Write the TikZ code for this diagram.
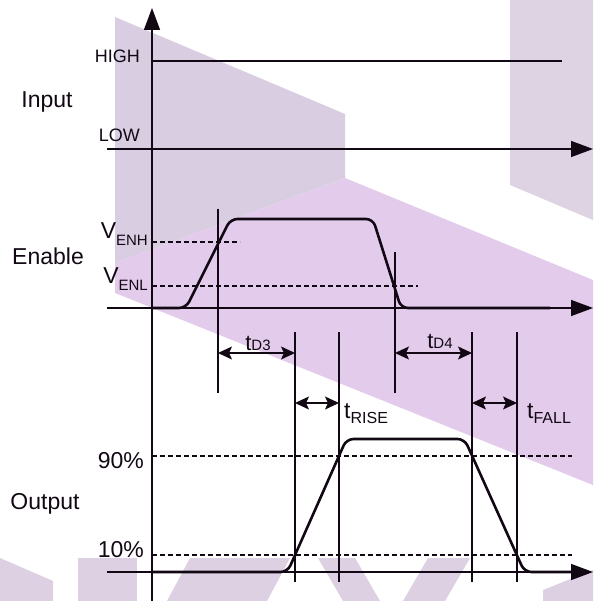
\documentclass[tikz,border=0pt]{standalone}
\usepackage{fontspec}
\setmainfont{Liberation Sans}
\usetikzlibrary{arrows.meta}
\newcommand\myfs[1]{\fontsize{#1}{#1}\selectfont}
\definecolor{wmgrey}{HTML}{D9CEE1}
\definecolor{wmpink}{HTML}{E3CBEC}
\definecolor{wmgreyb}{HTML}{DED3E3}
\definecolor{wmlow}{HTML}{DDD0E2}
\definecolor{ink}{HTML}{120814}
\begin{document}
\begin{tikzpicture}[x=1pt,y=-1pt,
  axisline/.style={line width=1.5pt, draw=ink},
  axisarrow/.style={axisline, -{Triangle[length=22pt,width=16pt]}},
  wave/.style={line width=2.6pt, draw=ink, rounded corners=7pt, line join=round},
  levelline/.style={line width=2.2pt, draw=ink},
  guide/.style={line width=1.3pt, draw=ink},
  thresh/.style={line width=1.1pt, draw=ink, dash pattern=on 5pt off 3pt},
  dim/.style={line width=1.4pt, draw=ink, {Stealth[length=14pt,width=13pt,inset=3pt]}-{Stealth[length=14pt,width=13pt,inset=3pt]}},
  lbl/.style={inner sep=0pt, text=ink, font=\myfs{23}},
  small/.style={inner sep=0pt, text=ink, font=\myfs{18}}]
\useasboundingbox (0,0) rectangle (593,601);
\fill[white] (0,0) rectangle (593,601);
% watermark
\fill[wmgrey] (115,17) -- (345,114) -- (345,178) -- (115,263) -- cycle;
\fill[wmpink] (115,263) -- (345,178) -- (593,280) -- (593,485) -- (115,293) -- cycle;
\fill[wmgreyb] (510,0) -- (593,0) -- (593,220) -- (510,185) -- cycle;
\fill[wmlow] (0,558) -- (53,581) -- (53,601) -- (0,601) -- cycle;
\fill[wmlow] (78,558) -- (137,558) -- (137,601) -- (78,601) -- cycle;
\fill[wmlow] (190,558) -- (290,558) -- (267,601) -- (167,601) -- cycle;
\fill[wmlow] (318,558) -- (355,558) -- (380,601) -- (343,601) -- cycle;
\fill[wmlow] (428,558) -- (470,558) -- (445,601) -- (403,601) -- cycle;
\fill[wmlow] (543,590) -- (593,570) -- (593,601) -- (543,601) -- cycle;

% coordinates
\coordinate (yb) at (152,601); \coordinate (yt) at (152,8);
\coordinate (hi0) at (152,61); \coordinate (hi1) at (562,61);
\coordinate (lo0) at (107,149); \coordinate (lo1) at (593,149);
\coordinate (en0) at (107,308); \coordinate (en1) at (593,308);
\coordinate (ou0) at (107,572); \coordinate (ou1) at (593,572);
% thresholds
\coordinate (enh0) at (152,242); \coordinate (enh1) at (240,242);
\coordinate (enl0) at (152,286); \coordinate (enl1) at (418,286);
\coordinate (p90a) at (152,456); \coordinate (p90b) at (572,456);
\coordinate (p10a) at (152,555); \coordinate (p10b) at (572,555);
% guides
\coordinate (g1a) at (218,209); \coordinate (g1b) at (218,393);
\coordinate (g4a) at (395,252); \coordinate (g4b) at (395,393);
\coordinate (g2a) at (295,332); \coordinate (g2b) at (295,582);
\coordinate (g3a) at (339,332); \coordinate (g3b) at (339,582);
\coordinate (g5a) at (472,332); \coordinate (g5b) at (472,582);
\coordinate (g6a) at (517,332); \coordinate (g6b) at (517,582);
% dimension arrows
\coordinate (d3a) at (218,353); \coordinate (d3b) at (295,353);
\coordinate (d4a) at (395,353); \coordinate (d4b) at (472,353);
\coordinate (dra) at (295,403); \coordinate (drb) at (339,403);
\coordinate (dfa) at (472,403); \coordinate (dfb) at (517,403);
% waveforms
\coordinate (e1) at (152,308); \coordinate (e2) at (186,308);
\coordinate (e3) at (230.5,219); \coordinate (e4) at (373,219);
\coordinate (e5) at (401,308); \coordinate (e6) at (550,308);
\coordinate (o1) at (152,572); \coordinate (o2) at (287.5,572);
\coordinate (o3) at (346.5,439); \coordinate (o4) at (464.5,439);
\coordinate (o5) at (524.5,572); \coordinate (o6) at (572,572);

% axes
\draw[axisarrow] (yb) -- (yt);
\draw[axisarrow] (lo0) -- (lo1);
\draw[axisarrow] (en0) -- (en1);
\draw[axisarrow] (ou0) -- (ou1);
\draw[levelline] (hi0) -- (hi1);

% thresholds
\draw[thresh] (enh0) -- (enh1);
\draw[thresh] (enl0) -- (enl1);
\draw[thresh] (p90a) -- (p90b);
\draw[thresh] (p10a) -- (p10b);

% guides
\draw[guide] (g1a) -- (g1b);
\draw[guide] (g4a) -- (g4b);
\draw[guide] (g2a) -- (g2b);
\draw[guide] (g3a) -- (g3b);
\draw[guide] (g5a) -- (g5b);
\draw[guide] (g6a) -- (g6b);

% waveforms
\draw[wave] (e1) -- (e2) -- (e3) -- (e4) -- (e5) -- (e6);
\draw[wave] (o1) -- (o2) -- (o3) -- (o4) -- (o5) -- (o6);

% dimension arrows
\draw[dim] (d3a) -- (d3b);
\draw[dim] (d4a) -- (d4b);
\draw[dim] (dra) -- (drb);
\draw[dim] (dfa) -- (dfb);

% labels
\node[lbl, anchor=base] (input) at (47,108) {Input};
\node[small, anchor=base east] (high) at (140,63) {HIGH};
\node[small, anchor=base east] (low) at (140,142) {LOW};
\node[lbl, anchor=base] (enable) at (48,264) {Enable};
\node[lbl, anchor=base east] (venh) at (148,238) {V\raisebox{-7pt}{\myfs{15}ENH}};
\node[lbl, anchor=base east] (venl) at (148,283) {V\raisebox{-7pt}{\myfs{15}ENL}};
\node[lbl, anchor=base east] (p90) at (144,468) {90\%};
\node[lbl, anchor=base east] (p10) at (144,557) {10\%};
\node[lbl, anchor=base] (output) at (45,509) {Output};
\node[lbl, anchor=base] (td3) at (258,350) {{\myfs{22}t}{\myfs{15}D3}};
\node[lbl, anchor=base] (td4) at (440,348) {{\myfs{22}t}{\myfs{15}D4}};
\node[lbl, anchor=base west] (trise) at (344,418) {t\raisebox{-5pt}{\myfs{16}RISE}};
\node[lbl, anchor=base west] (tfall) at (527,418) {t\raisebox{-5pt}{\myfs{16}FALL}};
\end{tikzpicture}
\end{document}
